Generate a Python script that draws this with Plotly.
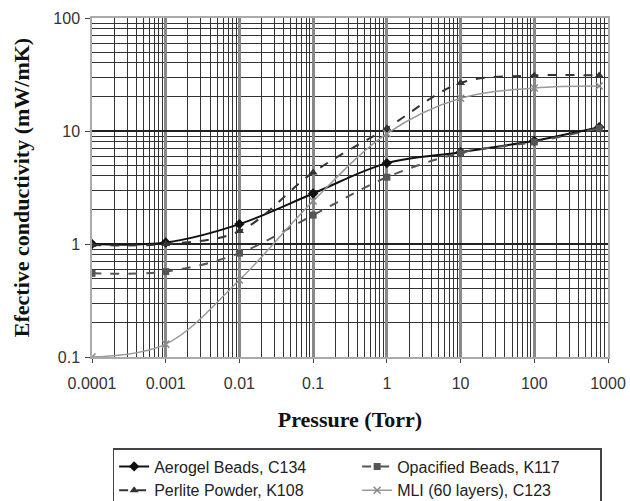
import plotly.graph_objects as go

pressure = [0.0001, 0.001, 0.01, 0.1, 1, 10, 100, 760]
aerogel = [1.0, 1.03, 1.5, 2.8, 5.2, 6.5, 8.2, 10.8]
opacified = [0.55, 0.57, 0.83, 1.8, 3.9, 6.4, 8.0, 10.6]
perlite = [0.98, 1.0, 1.3, 4.3, 10.6, 26.6, 31, 31]
mli = [0.1, 0.13, 0.48, 2.4, 9.5, 19.5, 24, 25]

x_ticks = [0.0001, 0.001, 0.01, 0.1, 1, 10, 100, 1000]
x_labels = ["0.0001", "0.001", "0.01", "0.1", "1", "10", "100", "1000"]
y_ticks = [0.1, 1, 10, 100]
y_labels = ["0.1", "1", "10", "100"]

minor_x = [m * 10 ** e for e in range(-4, 3) for m in range(2, 10)]
minor_y = [m * 10 ** e for e in range(-1, 2) for m in range(2, 10)]

fig = go.Figure()
fig.add_trace(go.Scatter(x=pressure, y=aerogel, name="Aerogel Beads, C134",
                         mode="lines+markers", line=dict(color="#111111", width=2, shape="spline"),
                         marker=dict(symbol="diamond", size=8, color="#111111")))
fig.add_trace(go.Scatter(x=pressure, y=opacified, name="Opacified Beads, K117",
                         mode="lines+markers", line=dict(color="#555555", width=2, shape="spline", dash="dash"),
                         marker=dict(symbol="square", size=7, color="#555555")))
fig.add_trace(go.Scatter(x=pressure, y=perlite, name="Perlite Powder, K108",
                         mode="lines+markers", line=dict(color="#333333", width=2, shape="spline", dash="dash"),
                         marker=dict(symbol="triangle-up", size=8, color="#333333")))
fig.add_trace(go.Scatter(x=pressure, y=mli, name="MLI (60 layers), C123",
                         mode="lines+markers", line=dict(color="#999999", width=1.5, shape="spline"),
                         marker=dict(symbol="x-thin", size=7, color="#888888", line=dict(width=1.5, color="#888888"))))

tick_font = dict(family="Liberation Sans, Arial", size=16, color="#333333")
title_font = dict(family="Liberation Serif, Times New Roman", size=22, color="#111111")

fig.update_xaxes(type="log", range=[-4, 3], tickmode="array", tickvals=x_ticks, ticktext=x_labels,
                 tickfont=tick_font, showgrid=True, gridcolor="#888888", gridwidth=3,
                 minor=dict(tickmode="array", tickvals=minor_x, showgrid=True, gridcolor="#333333", gridwidth=1.3),
                 showline=True, linecolor="#aaaaaa", linewidth=1.5, mirror=True,
                 ticks="outside", ticklen=4, tickcolor="#444444", automargin=False, ticklabelstandoff=7,
                 title=dict(text="<b>Pressure (Torr)</b>", font=title_font, standoff=21), zeroline=False)
fig.update_yaxes(type="log", range=[-1, 2], tickmode="array", tickvals=y_ticks, ticktext=y_labels,
                 tickfont=tick_font, showgrid=True, gridcolor="#222222", gridwidth=1.6,
                 minor=dict(tickmode="array", tickvals=minor_y, showgrid=True, gridcolor="#333333", gridwidth=1.3),
                 showline=True, linecolor="#aaaaaa", linewidth=1.5, mirror=True,
                 ticks="outside", ticklen=5, tickcolor="#444444", automargin=False, ticklabelstandoff=2,
                 title=dict(text="<b>Efective conductivity (mW/mK)</b>", font=title_font, standoff=18), zeroline=False)

fig.update_layout(
    width=630, height=501,
    margin=dict(l=92, r=22, t=18, b=144),
    plot_bgcolor="white", paper_bgcolor="white",
    showlegend=True,
    legend=dict(orientation="h", x=0.04, xref="paper", y=(501 - 448) / 501, yref="container",
                xanchor="left", yanchor="top",
                entrywidth=198, bordercolor="#444444", borderwidth=1.5,
                font=dict(family="Liberation Sans, Arial", size=16, color="#222222"),
                tracegroupgap=0, itemwidth=30),
)

fig.write_html("out.html", post_script="document.body.style.margin='0';",
               config={"displayModeBar": False})
